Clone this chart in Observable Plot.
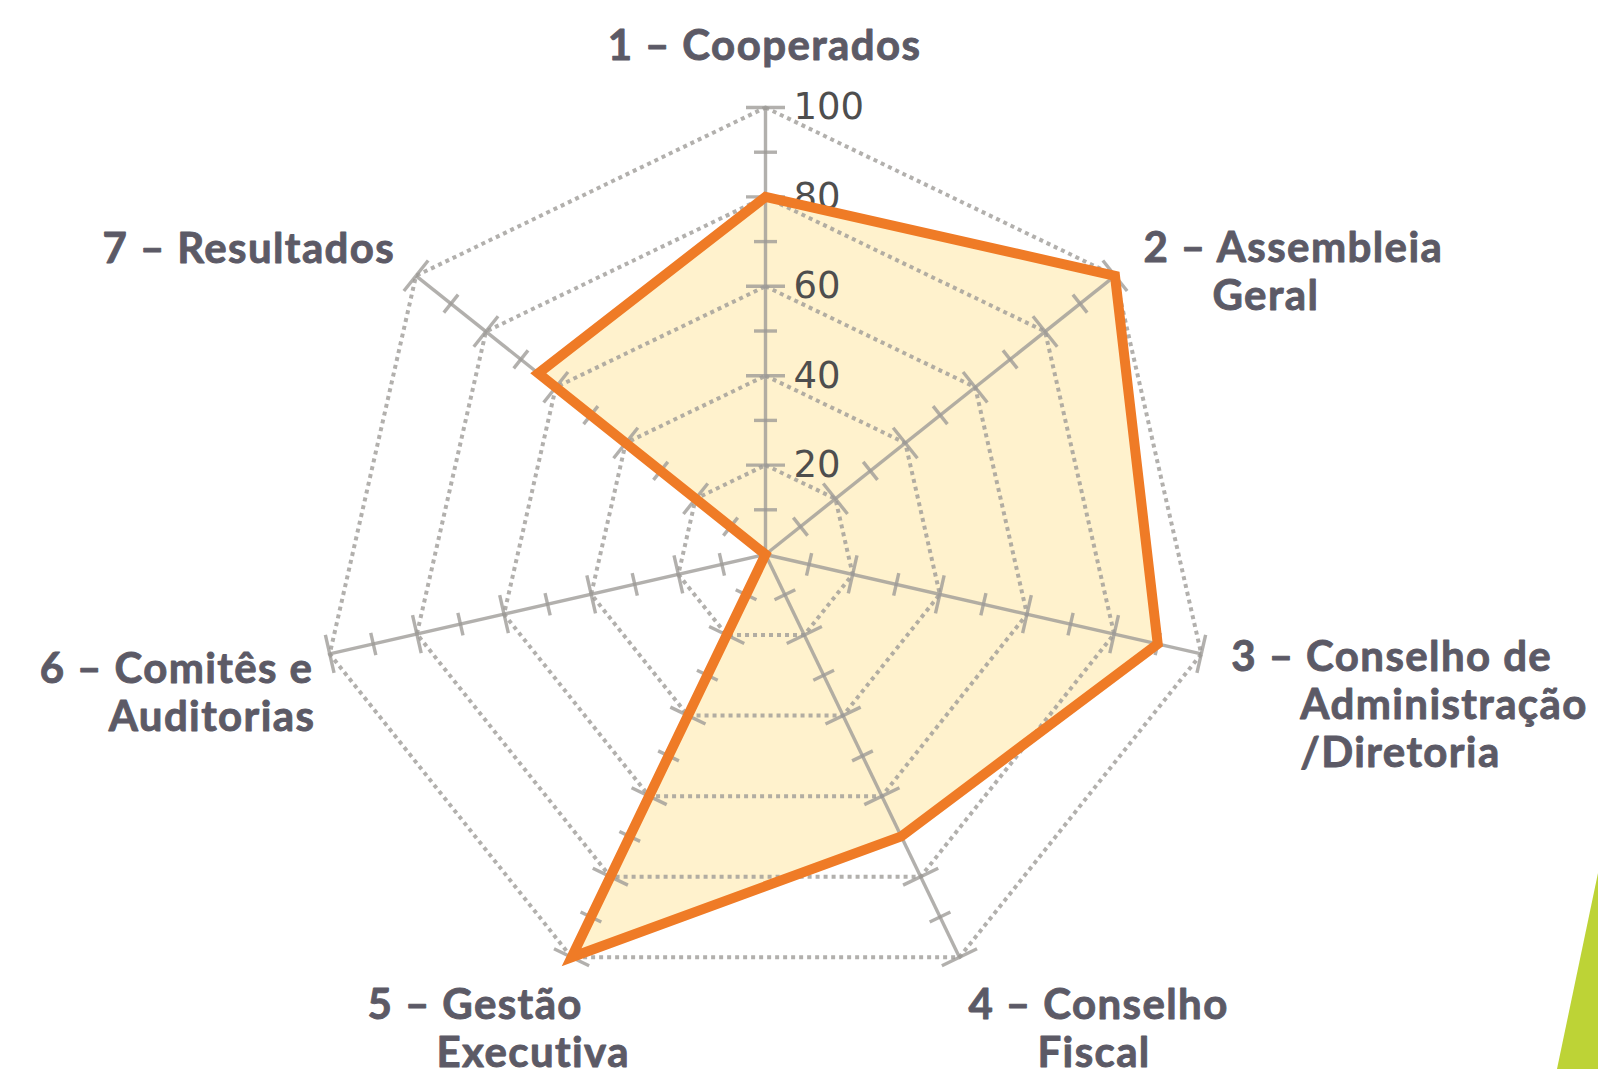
<!DOCTYPE html>
<html>
<head>
<meta charset="utf-8">
<script src="https://cdn.jsdelivr.net/npm/d3@7"></script>
<script src="https://cdn.jsdelivr.net/npm/@observablehq/plot@0.6"></script>
<style>
  html, body { margin: 0; padding: 0; background: #ffffff; }
  #wrap { position: relative; width: 1598px; height: 1069px; overflow: hidden; }
  #chart { position: absolute; left: 0; top: 0; }
  #chart g[font-family="Lato"] { letter-spacing: 1.4px; }
  #deco { position: absolute; left: 0; top: 0; width: 1598px; height: 1069px;
          background: #bdd336; clip-path: polygon(1598px 873px, 1557px 1069px, 1598px 1069px); }
</style>
</head>
<body>
<div id="wrap"><div id="deco"></div><div id="chart"></div></div>
<script>
// ---- data ----
const categories = [
  "1 – Cooperados",
  "2 – Assembleia Geral",
  "3 – Conselho de Administração /Diretoria",
  "4 – Conselho Fiscal",
  "5 – Gestão Executiva",
  "6 – Comitês e Auditorias",
  "7 – Resultados"
];
const labelLines = [
  ["1 – Cooperados"],
  ["2 – Assembleia", "Geral"],
  ["3 – Conselho de", "Administração", "/Diretoria"],
  ["4 – Conselho", "Fiscal"],
  ["5 – Gestão", "Executiva"],
  ["6 – Comitês e", "Auditorias"],
  ["7 – Resultados"]
];
const values = [80, 100, 90, 70, 100, 0, 65];
const gridLevels = [20, 40, 60, 80, 100];
const tickLabels = ["20", "40", "60", "80", "100"];
const minorLevels = [10, 30, 50, 70, 90];

// ---- layout ----
const W = 1598, H = 1069, CX = 765, CY = 554, R = 447;
const k = R / 100; // px per unit
const n = categories.length;
const ang = i => i * 2 * Math.PI / n;
const polar = (v, i) => ({x: v * Math.sin(ang(i)), y: v * Math.cos(ang(i))});
// label offsets (px, y down) from the tip of each axis
const labelOffsets = [
  {dx: -1, dy: -48, anchor: "middle"},
  {dx: 28.5, dy: -14, anchor: "start"},
  {dx: 30, dy: 17.5, anchor: "start"},
  {dx: 9, dy: 62, anchor: "start"},
  {dx: -204, dy: 62, anchor: "start"},
  {dx: -290, dy: 29.5, anchor: "start"},
  {dx: -313.5, dy: -13, anchor: "start"}
];
const lineH = 48, indent = 69;

// ---- derived tables ----
const polygon = values.map((v, i) => ({...polar(v, i), cat: categories[i]}));
const grid = gridLevels.flatMap(l => d3.range(n).map(i => ({...polar(l, i), level: l})));
const spokes = d3.range(n).map(i => ({x1: 0, y1: 0, x2: polar(100, i).x, y2: polar(100, i).y}));
const ticks = [];
for (let i = 0; i < n; i++) {
  const a = ang(i);
  for (const [lv, half] of [...gridLevels.map(l => [l, 19.5]), ...minorLevels.map(l => [l, 11.5])]) {
    const p = polar(lv, i), h = half / k;
    ticks.push({x1: p.x - h * Math.cos(a), y1: p.y + h * Math.sin(a), x2: p.x + h * Math.cos(a), y2: p.y - h * Math.sin(a)});
  }
}
const tickText = gridLevels.map((l, j) => ({...polar(l, 0), text: tickLabels[j]}));
const labels = [];
labelLines.forEach((lines, i) => {
  const tip = polar(100, i), o = labelOffsets[i];
  lines.forEach((t, j) => {
    labels.push({
      text: t, anchor: o.anchor,
      x: tip.x + (o.dx + (j > 0 ? indent : 0)) / k,
      y: tip.y - (o.dy + j * lineH) / k
    });
  });
});

const gray = "#9c9a96";
const labelStyle = {fontFamily: "Lato", fontWeight: 700, fontSize: 42, fill: "#5c5a66",
  stroke: "#5c5a66", strokeWidth: 0.9, lineAnchor: "bottom"};
const lineStyle = {stroke: gray, strokeOpacity: 0.78, strokeLinecap: "butt"};
const plot = Plot.plot({
  width: W, height: H,
  margin: 0,
  x: {domain: [-CX / k, (W - CX) / k], range: [0, W], axis: null},
  y: {domain: [-(H - CY) / k, CY / k], range: [H, 0], axis: null},
  style: {background: "transparent", overflow: "visible"},
  marks: [
    Plot.line(polygon, {x: "x", y: "y", curve: "linear-closed", fill: "#fff2cd", stroke: "none"}),
    Plot.line(grid, {x: "x", y: "y", z: "level", curve: "linear-closed", ...lineStyle, strokeWidth: 4,
      strokeDasharray: "4,4"}),
    Plot.link(spokes, {x1: "x1", y1: "y1", x2: "x2", y2: "y2", ...lineStyle, strokeWidth: 3.4}),
    Plot.link(ticks, {x1: "x1", y1: "y1", x2: "x2", y2: "y2", ...lineStyle, strokeWidth: 3.4}),
    Plot.text(tickText, {x: "x", y: "y", text: "text", dx: 28, textAnchor: "start", lineAnchor: "middle",
      fontFamily: "DejaVu Sans", fontSize: 37, fill: "#4e4e4e"}),
    Plot.line(polygon, {x: "x", y: "y", curve: "linear-closed", fill: "none", stroke: "#ef7b26", strokeWidth: 10,
      strokeLinejoin: "miter", strokeMiterlimit: 10}),
    Plot.text(labels.filter(d => d.anchor === "middle"), {x: "x", y: "y", text: "text", textAnchor: "middle", ...labelStyle}),
    Plot.text(labels.filter(d => d.anchor === "start"), {x: "x", y: "y", text: "text", textAnchor: "start", ...labelStyle})
  ]
});
document.getElementById("chart").appendChild(plot);
</script>
</body>
</html>
